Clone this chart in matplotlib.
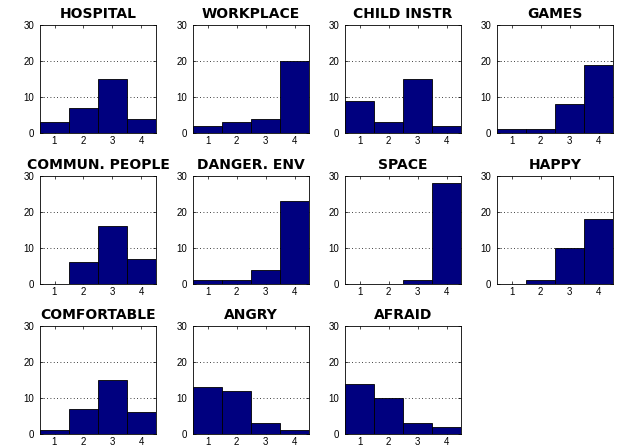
import matplotlib
matplotlib.use("Agg")
import matplotlib.pyplot as plt
import numpy as np

titles = ["HOSPITAL", "WORKPLACE", "CHILD INSTR", "GAMES",
          "COMMUN. PEOPLE", "DANGER. ENV", "SPACE", "HAPPY",
          "COMFORTABLE", "ANGRY", "AFRAID"]
categories = [1, 2, 3, 4]
hospital = [3, 7, 15, 4]
workplace = [2, 3, 4, 20]
child_instr = [9, 3, 15, 2]
games = [1, 1, 8, 19]
commun_people = [0, 6, 16, 7]
danger_env = [1, 1, 4, 23]
space = [0, 0, 1, 28]
happy = [0, 1, 10, 18]
comfortable = [1, 7, 15, 6]
angry = [13, 12, 3, 1]
afraid = [14, 10, 3, 2]
series = [hospital, workplace, child_instr, games, commun_people, danger_env,
          space, happy, comfortable, angry, afraid]
yticks = [0, 10, 20, 30]

plt.rcParams['font.family'] = ['Liberation Sans', 'DejaVu Sans']
W, H = 619, 447
fig = plt.figure(figsize=(W / 100, H / 100), dpi=100)

lefts = [40, 193, 345, 497]
tops = [25, 176, 326]
aw, ah = 116, 108

for i, (t, vals) in enumerate(zip(titles, series)):
    r, c = divmod(i, 4)
    ax = fig.add_axes([lefts[c] / W, 1 - (tops[r] + ah) / H, aw / W, ah / H])
    ax.bar(categories, vals, width=1.0, color='#00007f', edgecolor='black',
           linewidth=0.6, zorder=3)
    ax.set_xlim(0.5, 4.5)
    ax.set_ylim(0, 30)
    ax.set_xticks(categories)
    ax.set_yticks(yticks)
    ax.tick_params(direction='in', top=True, right=True, labelsize=7,
                   length=2, width=0.5, pad=2, colors='black')
    ax.tick_params(axis='y', pad=4)
    for gy in [10, 20]:
        ax.axhline(gy, color='black', linestyle=(0, (1, 3)), linewidth=0.6, zorder=1)
    for s in ax.spines.values():
        s.set_linewidth(0.6)
    ax.set_title(t, fontsize=10, fontweight='bold', family='DejaVu Sans', pad=5)

fig.savefig("out.png", dpi=100)
